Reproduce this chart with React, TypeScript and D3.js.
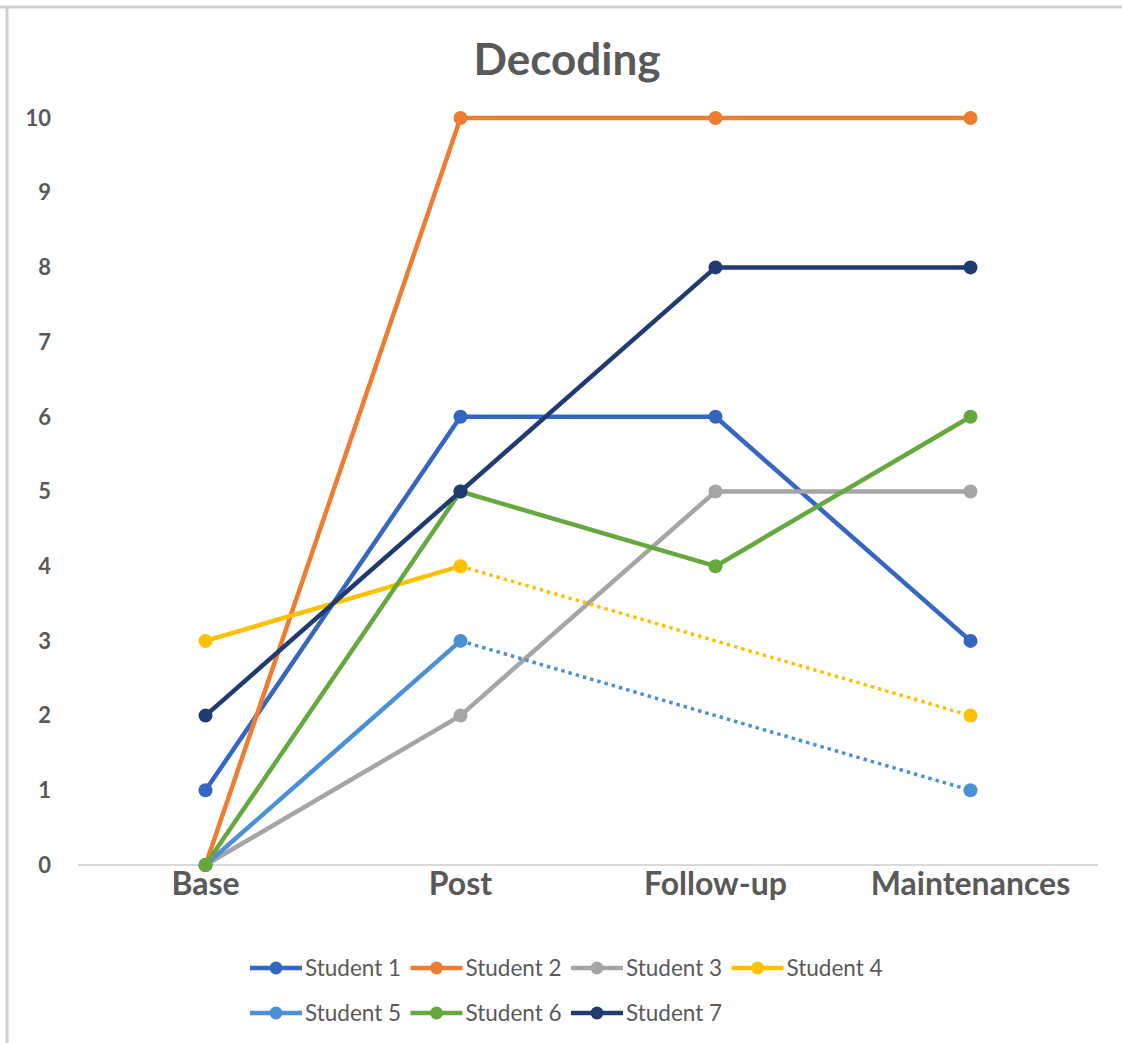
import React from "react";
import * as d3 from "d3";

const categories = ["Base", "Post", "Follow-up", "Maintenances"];
const seriesNames = ["Student 1", "Student 2", "Student 3", "Student 4", "Student 5", "Student 6", "Student 7"];
const student1 = [1, 6, 6, 3];
const student2 = [0, 10, 10, 10];
const student3 = [0, 2, 5, 5];
const student4 = [3, 4, null, 2];
const student5 = [0, 3, null, 1];
const student6 = [0, 5, 4, 6];
const student7 = [2, 5, 8, 8];
const seriesValues: (number | null)[][] = [student1, student2, student3, student4, student5, student6, student7];
const colors = ["#3566C2", "#ED7D31", "#A5A5A5", "#FFC000", "#4A90D6", "#65A83D", "#1F3B70"];
const yTicks = [0, 1, 2, 3, 4, 5, 6, 7, 8, 9, 10];

const W = 1122;
const H = 1043;
const FONT = "Lato, 'Open Sans', sans-serif";

export default function App() {
  const x = d3.scaleBand<string>().domain(categories).range([78, 1098]);
  const y = d3.scaleLinear().domain([0, 10]).range([865, 118]);
  const cx = (c: string) => (x(c) as number) + x.bandwidth() / 2;

  const line = d3
    .line<number | null>()
    .defined((d) => d !== null)
    .x((_, i) => cx(categories[i]))
    .y((d) => y(d as number));

  // Segments that bridge missing values, drawn dotted
  const gapSegments = (vals: (number | null)[]) => {
    const idx = vals.map((v, i) => (v !== null ? i : -1)).filter((i) => i >= 0);
    const segs: [number, number][] = [];
    for (let k = 1; k < idx.length; k++) {
      if (idx[k] - idx[k - 1] > 1) segs.push([idx[k - 1], idx[k]]);
    }
    return segs;
  };

  const legendRows = [seriesNames.slice(0, 4), seriesNames.slice(4)];

  return (
    <svg width={W} height={H} style={{ display: "block", position: "absolute", left: 0, top: 0 }}>
      <rect x={0} y={0} width={W} height={H} fill="#fff" />
      <line x1={0} x2={W} y1={7} y2={7} stroke="#d0d0d0" strokeWidth={3} />
      <line x1={7} x2={7} y1={7} y2={H} stroke="#d0d0d0" strokeWidth={3} />

      <text x={567} y={75} textAnchor="middle" fontFamily={FONT} fontWeight={700} fontSize={44} fill="#595959">
        Decoding
      </text>

      {yTicks.map((t) => (
        <text key={t} x={51} y={y(t)} dy="0.35em" textAnchor="end" fontFamily={FONT} fontWeight={700} fontSize={22} fill="#595959">
          {t}
        </text>
      ))}

      <line x1={78} x2={1098} y1={y(0)} y2={y(0)} stroke="#d9d9d9" strokeWidth={2} />

      {categories.map((c) => (
        <text key={c} x={cx(c)} y={895} textAnchor="middle" fontFamily={FONT} fontWeight={700} fontSize={32} fill="#595959">
          {c}
        </text>
      ))}

      {seriesValues.map((vals, si) => (
        <g key={si}>
          {gapSegments(vals).map(([a, b]) => (
            <line
              key={a}
              x1={cx(categories[a])}
              y1={y(vals[a] as number)}
              x2={cx(categories[b])}
              y2={y(vals[b] as number)}
              stroke={colors[si]}
              strokeWidth={3.5}
              strokeDasharray="3.5 4"
            />
          ))}
          <path d={line(vals) || ""} fill="none" stroke={colors[si]} strokeWidth={4.5} strokeLinejoin="round" />
          {vals.map((v, i) =>
            v === null ? null : <circle key={i} cx={cx(categories[i])} cy={y(v)} r={7} fill={colors[si]} />
          )}
        </g>
      ))}

      {legendRows.map((row, ri) =>
        row.map((name, k) => {
          const si = ri * 4 + k;
          const lx = 250 + k * 160.5;
          const ly = 968 + ri * 45;
          return (
            <g key={name}>
              <line x1={lx} x2={lx + 52} y1={ly} y2={ly} stroke={colors[si]} strokeWidth={4.5} />
              <circle cx={lx + 26} cy={ly} r={6.5} fill={colors[si]} />
              <text x={lx + 55} y={ly} dy="0.35em" fontFamily={FONT} fontSize={22.5} fill="#595959">
                {name}
              </text>
            </g>
          );
        })
      )}
    </svg>
  );
}
